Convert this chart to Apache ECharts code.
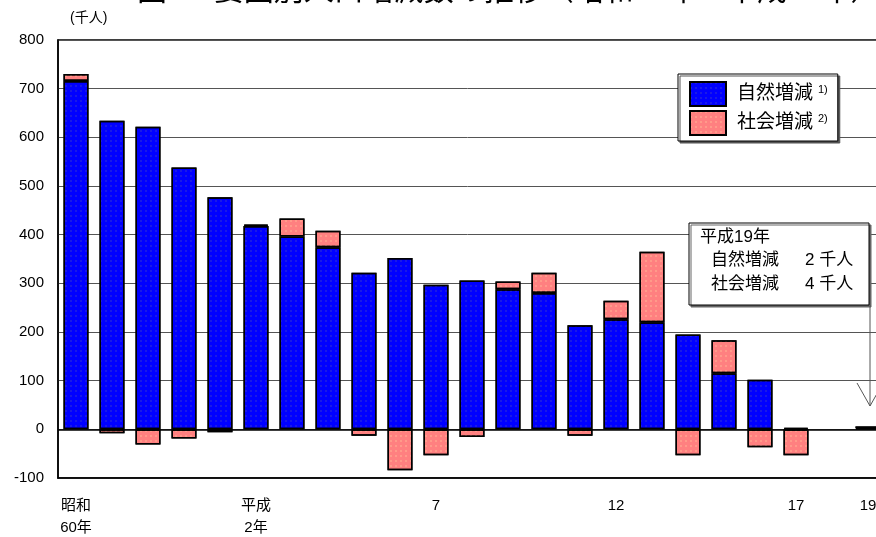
<!DOCTYPE html>
<html>
<head>
<meta charset="utf-8">
<script src="https://cdn.jsdelivr.net/npm/echarts@6/dist/echarts.min.js"></script>
<style>
  html, body { margin: 0; padding: 0; background: #fff; }
  #chart { width: 876px; height: 537px; }
</style>
</head>
<body>
<div id="chart"></div>
<script>
// 年（昭和60年〜平成19年）
var years = ['昭和60年', '61年', '62年', '63年', '平成元年', '2年', '3年', '4年', '5年', '6年',
  '7年', '8年', '9年', '10年', '11年', '12年', '13年', '14年', '15年', '16年', '17年', '18年', '19年'];
// 横軸に出すラベル
var tickLabels = ['昭和\n60年', '', '', '', '', '平成\n2年', '', '', '', '', '7', '', '', '', '',
  '12', '', '', '', '', '17', '', '19'];
// 自然増減（千人）
var naturalData = [716, 634, 622, 538, 477, 418, 396, 374, 322, 352, 297, 306, 288, 280, 214,
  226, 220, 195, 115, 102, 3, null, 2];
// 社会増減（千人）
var socialData = [14, -8, -31, -19, -6, 3, 37, 34, -13, -84, -53, -16, 16, 42, -13,
  38, 145, -53, 68, -37, -53, null, 4];
var seriesNames = ['自然増減', '社会増減'];
var noteMarks = ['1)', '2)'];

var FONT = '"Liberation Sans", "Noto Sans CJK JP", sans-serif';

var chart = echarts.init(document.getElementById('chart'));

function getOption() {
  var option = {
    animation: false,
    textStyle: { fontFamily: FONT, color: '#000' },
    grid: {
      left: 58, top: 40, right: -10, bottom: 59,
      outerBoundsMode: 'none',
      show: true, borderColor: '#000', borderWidth: 1.5
    },
    legend: {
      orient: 'vertical',
      left: 678, top: 74,
      padding: [7, 10, 5, 11],
      itemGap: 3,
      itemWidth: 36, itemHeight: 24,
      icon: 'rect',
      backgroundColor: '#fff',
      borderColor: '#000', borderWidth: 1,
      shadowColor: '#555', shadowOffsetX: 2, shadowOffsetY: 2, shadowBlur: 0,
      data: seriesNames,
      formatter: function (name) {
        return '{n|' + name + '}{s|' + noteMarks[seriesNames.indexOf(name)] + '}';
      },
      textStyle: {
        padding: [0, 0, 0, 6],
        rich: {
          n: { fontSize: 19, fontFamily: FONT, color: '#000' },
          s: { fontSize: 11, fontFamily: FONT, color: '#000', verticalAlign: 'top', padding: [0, 0, 8, 5] }
        }
      }
    },
    xAxis: {
      type: 'category',
      data: years,
      axisLine: { onZero: false, lineStyle: { color: '#000', width: 1.5 } },
      axisTick: { show: false },
      axisLabel: {
        interval: 0, margin: 17, fontSize: 15, lineHeight: 22, color: '#000', fontFamily: FONT,
        formatter: function (v, i) { return tickLabels[i]; }
      }
    },
    yAxis: {
      type: 'value',
      min: -100, max: 800, interval: 100,
      axisLine: { show: true, lineStyle: { color: '#000', width: 1.5 } },
      axisTick: { show: false },
      axisLabel: { margin: 14, fontSize: 15, color: '#000', fontFamily: FONT },
      splitLine: { lineStyle: { color: '#555', width: 1 } }
    },
    series: [
      {
        name: seriesNames[0],
        type: 'bar',
        stack: 'total',
        barWidth: 25,
        data: naturalData,
        itemStyle: {
          color: '#0000ff',
          borderColor: '#000', borderWidth: 1.5,
          decal: {
            symbol: 'circle', symbolSize: 0.7, color: 'rgba(90,90,170,0.8)',
            dashArrayX: [2, 3], dashArrayY: [2, 3]
          }
        },
        markLine: {
          silent: true, symbol: 'none', label: { show: false },
          lineStyle: { color: '#000', width: 1.5, type: 'solid' },
          data: [{ yAxis: 0 }]
        }
      },
      {
        name: seriesNames[1],
        type: 'bar',
        stack: 'total',
        barWidth: 25,
        data: socialData,
        itemStyle: {
          color: '#ff8080',
          borderColor: '#000', borderWidth: 1.5,
          decal: {
            symbol: 'circle', symbolSize: 0.7, color: 'rgba(255,210,160,0.9)',
            dashArrayX: [2, 3], dashArrayY: [2, 3]
          }
        }
      }
    ],
    graphic: [
      {
        type: 'text', left: 137, top: -23, z: 10,
        style: { text: '図2　要因別人口増減数の推移（昭和60年～平成19年）', font: '30px ' + FONT, fill: '#000' }
      },
      {
        type: 'text', left: 70, top: 11,
        style: { text: '(千人)', font: '14px ' + FONT, fill: '#000' }
      },
      // 平成19年の注記
      {
        type: 'rect', z: 20,
        shape: { x: 689, y: 223, width: 180, height: 82 },
        style: { fill: '#fff', stroke: '#000', lineWidth: 1, shadowColor: '#666', shadowOffsetX: 2, shadowOffsetY: 2 }
      },
      { type: 'text', z: 21, x: 700, y: 229, style: { text: '平成19年', font: '17px ' + FONT, fill: '#000' } },
      { type: 'text', z: 21, x: 711, y: 252, style: { text: '自然増減', font: '17px ' + FONT, fill: '#000' } },
      { type: 'text', z: 21, x: 805, y: 252, style: { text: '2 千人', font: '17px ' + FONT, fill: '#000' } },
      { type: 'text', z: 21, x: 711, y: 276, style: { text: '社会増減', font: '17px ' + FONT, fill: '#000' } },
      { type: 'text', z: 21, x: 805, y: 276, style: { text: '4 千人', font: '17px ' + FONT, fill: '#000' } },
      {
        type: 'polyline', z: 20,
        shape: { points: [[870, 305], [870, 406]] },
        style: { stroke: '#555', lineWidth: 1, fill: null }
      },
      {
        type: 'polyline', z: 20,
        shape: { points: [[857, 383], [870, 406], [883, 383]] },
        style: { stroke: '#555', lineWidth: 1, fill: null }
      }
    ]
  };
  return option;
}

chart.setOption(getOption());
</script>
</body>
</html>
